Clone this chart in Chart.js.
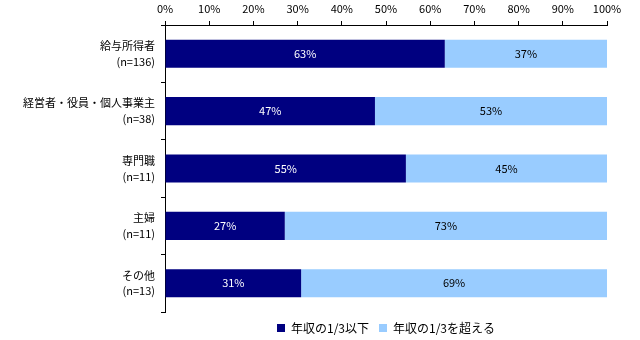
<!DOCTYPE html>
<html>
<head>
<meta charset="utf-8">
<script src="https://cdn.jsdelivr.net/npm/chart.js@4/dist/chart.umd.min.js"></script>
<style>
html,body{margin:0;padding:0;background:#fff;}
#wrap{width:640px;height:340px;position:relative;}
</style>
</head>
<body>
<div id="wrap"><canvas id="c" width="640" height="340"></canvas></div>
<script>
const categories = [
  ["給与所得者", "(n=136)"],
  ["経営者・役員・個人事業主", "(n=38)"],
  ["専門職", "(n=11)"],
  ["主婦", "(n=11)"],
  ["その他", "(n=13)"]
];
const seriesNames = ["年収の1/3以下", "年収の1/3を超える"];
const lowValues = [63.3, 47.5, 54.5, 27.1, 30.8];
const highValues = [36.7, 52.5, 45.5, 72.9, 69.2];
const lowLabels = ["63%", "47%", "55%", "27%", "31%"];
const highLabels = ["37%", "53%", "45%", "73%", "69%"];
const xTickValues = [0, 10, 20, 30, 40, 50, 60, 70, 80, 90, 100];

const FONT = "'Noto Sans CJK JP', 'DejaVu Sans', sans-serif";
const segLabels = [lowLabels, highLabels];
const segColors = ["#ffffff", "#000000"];

const barLabelPlugin = {
  id: 'barLabels',
  afterDatasetsDraw(chart) {
    const ctx = chart.ctx;
    ctx.save();
    ctx.font = "11px " + FONT;
    ctx.textAlign = 'center';
    ctx.textBaseline = 'middle';
    chart.data.datasets.forEach((ds, di) => {
      const meta = chart.getDatasetMeta(di);
      meta.data.forEach((bar, i) => {
        const cx = (bar.x + bar.base) / 2;
        ctx.fillStyle = segColors[di];
        ctx.fillText(segLabels[di][i], cx, bar.y);
      });
    });
    ctx.restore();
  }
};

new Chart(document.getElementById('c'), {
  type: 'bar',
  data: {
    labels: categories,
    datasets: [
      { label: seriesNames[0], data: lowValues, backgroundColor: '#000080', borderWidth: 0, barPercentage: 0.49, categoryPercentage: 1.0 },
      { label: seriesNames[1], data: highValues, backgroundColor: '#99CCFF', borderWidth: 0, barPercentage: 0.49, categoryPercentage: 1.0 }
    ]
  },
  options: {
    indexAxis: 'y',
    responsive: false,
    animation: false,
    events: [],
    layout: { padding: { left: 0, right: 33, top: 0, bottom: -4 } },
    scales: {
      x: {
        position: 'top',
        stacked: true,
        min: 0,
        max: 100,
        afterBuildTicks(scale) { scale.ticks = xTickValues.map(v => ({ value: v })); },
        afterFit(scale) { scale.height = 25; },
        ticks: {
          color: '#000',
          font: { family: FONT, size: 11 },
          padding: 6,
          maxRotation: 0,
          autoSkip: false,
          callback: v => v + '%'
        },
        grid: { drawOnChartArea: false, drawTicks: true, tickLength: 4, color: '#000', lineWidth: 1 },
        border: { display: true, color: '#000', width: 1 }
      },
      y: {
        stacked: true,
        afterFit(scale) { scale.width = 165; },
        ticks: {
          color: '#000',
          font: { family: FONT, size: 11, lineHeight: 1.45 },
          padding: 6,
          autoSkip: false
        },
        grid: { offset: true, drawOnChartArea: false, drawTicks: true, tickLength: 4, color: '#000', lineWidth: 1 },
        border: { display: true, color: '#000', width: 1 }
      }
    },
    plugins: {
      legend: {
        position: 'bottom',
        fullSize: false,
        labels: {
          color: '#000',
          font: { family: FONT, size: 12 },
          boxWidth: 8,
          boxHeight: 8,
          padding: 10
        }
      },
      tooltip: { enabled: false }
    }
  },
  plugins: [barLabelPlugin]
});
</script>
</body>
</html>
